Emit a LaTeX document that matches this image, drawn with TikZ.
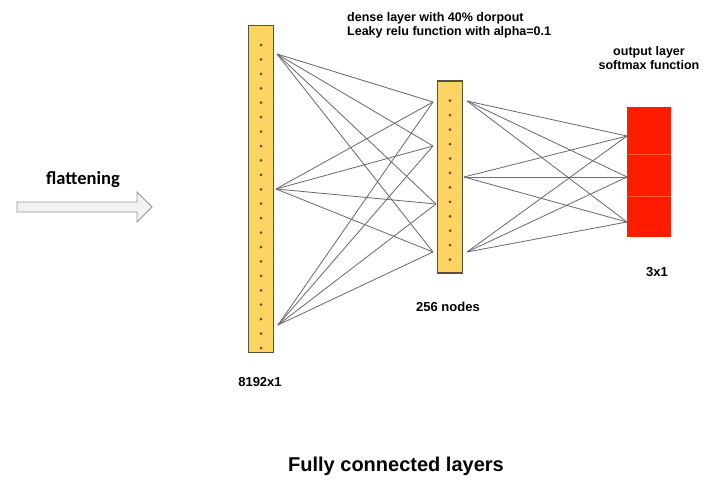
\documentclass[tikz,border=0pt]{standalone}
\usepackage{fontspec}
\setmainfont{Liberation Sans}
\newfontfamily\flatfont{Carlito}
\usepackage{tikz}
\usetikzlibrary{positioning}

\definecolor{layeryellow}{RGB}{252,212,100}
\definecolor{layeredge}{RGB}{90,80,60}
\definecolor{dotbrown}{RGB}{105,75,20}
\definecolor{outred}{RGB}{255,28,0}
\definecolor{linkgray}{RGB}{110,110,110}
\definecolor{arrowfill}{RGB}{242,242,242}
\definecolor{arrowedge}{RGB}{150,150,150}

\begin{document}
\begin{tikzpicture}[
    x=1pt, y=-1pt,
    layer/.style={rectangle, draw=layeredge, line width=1.1pt, fill=layeryellow, minimum width=25pt, inner sep=0},
    outbox/.style={rectangle, fill=outred, minimum width=44pt, minimum height=130pt, inner sep=0},
    unit/.style={circle, fill=dotbrown, inner sep=0, minimum size=3pt},
    link/.style={draw=linkgray, line width=0.85pt},
    label/.style={font=\fontsize{13}{15}\selectfont\bfseries, inner sep=0},
    note/.style={font=\fontsize{12.5}{14.5}\selectfont\bfseries, inner sep=0},
    flatarrow/.style={draw=arrowedge, fill=arrowfill, line width=0.8pt}
]
\useasboundingbox (0,0) rectangle (726,487);

% Define the layers
\node[layer, minimum height=327pt] (flat) at (261,189) {};
\node[layer, minimum height=192pt] (dense) at (450,177) {};
\node[outbox] (output) at (649,172) {};
\draw[outred!75!white, line width=0.5pt] (output.west |- 0,154) -- (output.east |- 0,154);
\draw[outred!75!white, line width=0.5pt] (output.west |- 0,196) -- (output.east |- 0,196);

% Units inside the layers
\foreach \k in {0,...,21} \node[unit] at (261,45+14.43*\k) {};
\foreach \k in {0,...,11} \node[unit] at (450,100.7+14.45*\k) {};

% Ports where the links meet the layers
\coordinate (f1) at (277,54);
\coordinate (f2) at (276,189);
\coordinate (f3) at (278,325);
\coordinate (d1) at (433,102);
\coordinate (d2) at (433,146);
\coordinate (d3) at (436,204);
\coordinate (d4) at (433,252);
\coordinate (e1) at (467,101);
\coordinate (e2) at (464,177);
\coordinate (e3) at (467,252);
\coordinate (o1) at (627,136);
\coordinate (o2) at (627,177);
\coordinate (o3) at (627,222);

% Fully connected links
\foreach \a in {f1,f2,f3} \foreach \b in {d1,d2,d3,d4} \draw[link] (\a) -- (\b);
\foreach \a in {e1,e2,e3} \foreach \b in {o1,o2,o3} \draw[link] (\a) -- (\b);

% Flattening arrow
\draw[flatarrow] (17,202) -- (137,202) -- (137,192) -- (152,207) -- (137,222) -- (137,212) -- (17,212) -- cycle;
\node[font=\flatfont\fontsize{18.5}{20}\selectfont\bfseries, inner sep=0] (flat-anno) at (83,180) {flattening};

% Labels
\node[note, anchor=north west, align=left] (dense-anno) at (347,12) {dense layer with 40\% dorpout\\ Leaky relu function with alpha=0.1};
\node[note, align=center] (out-anno) at (649,58) {output layer\\ softmax function};
\node[label] (flat-size) at (260,382) {8192x1};
\node[label] (dense-size) at (448,307) {256 nodes};
\node[label] (out-size) at (657,272) {3x1};
\node[font=\fontsize{20}{22}\selectfont\bfseries, inner sep=0] (title) at (396,466) {Fully connected layers};

\end{tikzpicture}
\end{document}
